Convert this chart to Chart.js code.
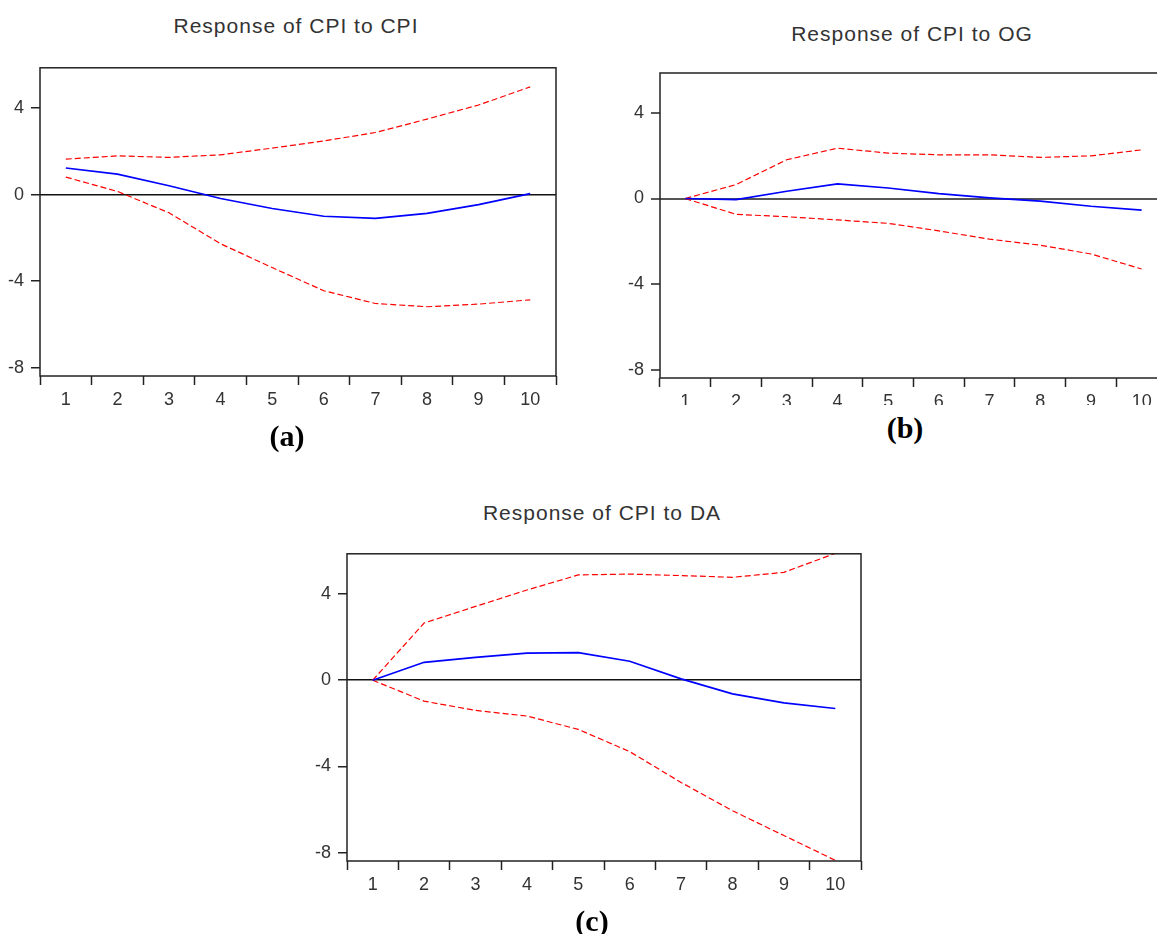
<!DOCTYPE html>
<html>
<head>
<meta charset="utf-8">
<script src="https://cdn.jsdelivr.net/npm/chart.js@4"></script>
<style>
	html, body {
		margin: 0;
		padding: 0;
		background: #fff;
		width: 1157px;
		height: 934px;
		overflow: hidden;
		position: relative;
	}
	.box {
		position: absolute;
		overflow: hidden;
	}
	.title {
		position: absolute;
		transform: translate(-50%, -50%);
		font: 21px "Liberation Sans", Arial, sans-serif;
		letter-spacing: 1px;
		color: #333;
		white-space: nowrap;
		line-height: 1;
	}
	.caption {
		position: absolute;
		transform: translate(-50%, -50%);
		font: bold 30px "Liberation Serif", "Times New Roman", serif;
		color: #000;
		white-space: nowrap;
		line-height: 1;
	}
</style>
</head>
<body>
<div class="title" style="left:296px;top:25px">Response of CPI to CPI</div>
<div class="title" style="left:912px;top:33px">Response of CPI to OG</div>
<div class="title" style="left:602px;top:512px">Response of CPI to DA</div>

<div class="box" style="left:0;top:50px;width:580px;height:370px"><canvas id="chartA"></canvas></div>
<!-- the (b) panel is cropped on the right and through its tick labels -->
<div class="box" style="left:620px;top:55px;width:580px;height:350px"><canvas id="chartB"></canvas></div>
<div class="box" style="left:307px;top:536px;width:580px;height:369px"><canvas id="chartC"></canvas></div>

<div class="caption" style="left:287px;top:436px">(a)</div>
<div class="caption" style="left:905px;top:428px">(b)</div>
<div class="caption" style="left:592px;top:921px">(c)</div>

<script>
// periods after the shock
const periods = ["1", "2", "3", "4", "5", "6", "7", "8", "9", "10"];
const yTickValues = [-8, -4, 0, 4];

// (a) response of CPI to CPI
const cpiToCpi = [1.23, 0.95, 0.41, -0.18, -0.64, -1.0, -1.1, -0.87, -0.46, 0.05];
const cpiToCpiUpper = [1.64, 1.79, 1.72, 1.84, 2.15, 2.48, 2.87, 3.49, 4.14, 4.98];
const cpiToCpiLower = [0.81, 0.15, -0.84, -2.27, -3.37, -4.44, -5.03, -5.18, -5.06, -4.86];

// (b) response of CPI to OG
const cpiToOg = [0, -0.05, 0.34, 0.68, 0.49, 0.23, 0.03, -0.12, -0.36, -0.54];
const cpiToOgUpper = [0, 0.65, 1.81, 2.35, 2.12, 2.04, 2.04, 1.92, 1.99, 2.27];
const cpiToOgLower = [0, -0.74, -0.85, -1.0, -1.16, -1.51, -1.9, -2.18, -2.59, -3.29];

// (c) response of CPI to DA
const cpiToDa = [0, 0.83, 1.06, 1.26, 1.28, 0.88, 0.06, -0.63, -1.05, -1.31];
const cpiToDaUpper = [0, 2.65, 3.42, 4.18, 4.88, 4.92, 4.85, 4.77, 5.0, 5.88];
const cpiToDaLower = [0, -0.97, -1.4, -1.66, -2.28, -3.31, -4.74, -6.05, -7.2, -8.35];

const tickFont = { family: "'Liberation Sans', Arial, sans-serif", size: 18 };

// draws the closed box round the plot area
const framePlugin = {
	id: "frame",
	afterDraw(chart) {
		const { ctx, chartArea } = chart;
		ctx.save();
		ctx.strokeStyle = "#222";
		ctx.lineWidth = 1.5;
		ctx.strokeRect(
			chartArea.left,
			chartArea.top,
			chartArea.right - chartArea.left,
			chartArea.bottom - chartArea.top
		);
		ctx.restore();
	}
};

function makeChart(id, w, h, padding, resp, upper, lower, zeroColor, zeroWidth) {
	const canvas = document.getElementById(id);
	canvas.width = w;
	canvas.height = h;
	canvas.style.width = w + "px";
	canvas.style.height = h + "px";
	const band = values => ({
		data: values,
		borderColor: "#ff0000",
		borderWidth: 1.2,
		borderDash: [6, 3],
		pointRadius: 0,
		tension: 0
	});
	return new Chart(canvas, {
		type: "line",
		data: {
			labels: periods,
			datasets: [
				{
					data: resp,
					borderColor: "#0000ff",
					borderWidth: 1.7,
					pointRadius: 0,
					tension: 0
				},
				band(upper),
				band(lower)
			]
		},
		options: {
			responsive: false,
			animation: false,
			layout: { padding },
			plugins: {
				legend: { display: false },
				tooltip: { enabled: false }
			},
			scales: {
				x: {
					type: "category",
					offset: true,
					border: { display: false },
					grid: {
						offset: true,
						drawOnChartArea: false,
						tickColor: "#222",
						tickWidth: 1.5,
						tickLength: 9
					},
					ticks: {
						color: "#333",
						font: tickFont,
						padding: 4,
						maxRotation: 0,
						autoSkip: false
					},
					afterFit(scale) {
						scale.height = 44;
					}
				},
				y: {
					min: -8.38,
					max: 5.86,
					border: { display: false },
					grid: {
						color: ctx => (ctx.tick && ctx.tick.value === 0 ? zeroColor : "rgba(0,0,0,0)"),
						lineWidth: zeroWidth,
						tickColor: "#222",
						tickWidth: 1.5,
						tickLength: 9
					},
					ticks: {
						color: "#333",
						font: tickFont,
						padding: 7
					},
					afterBuildTicks(scale) {
						scale.ticks = yTickValues.map(value => ({ value }));
					},
					afterFit(scale) {
						scale.width = 40;
					}
				}
			}
		},
		plugins: [framePlugin]
	});
}

makeChart("chartA", 580, 370, { top: 16, right: 24, bottom: 0, left: 0 },
	cpiToCpi, cpiToCpiUpper, cpiToCpiLower, "#111", 1.5);
makeChart("chartB", 580, 367, { top: 18, right: 33, bottom: 0, left: 0 },
	cpiToOg, cpiToOgUpper, cpiToOgLower, "#555", 2);
makeChart("chartC", 580, 369, { top: 16, right: 26, bottom: 0, left: 0 },
	cpiToDa, cpiToDaUpper, cpiToDaLower, "#111", 1.5);
</script>
</body>
</html>
